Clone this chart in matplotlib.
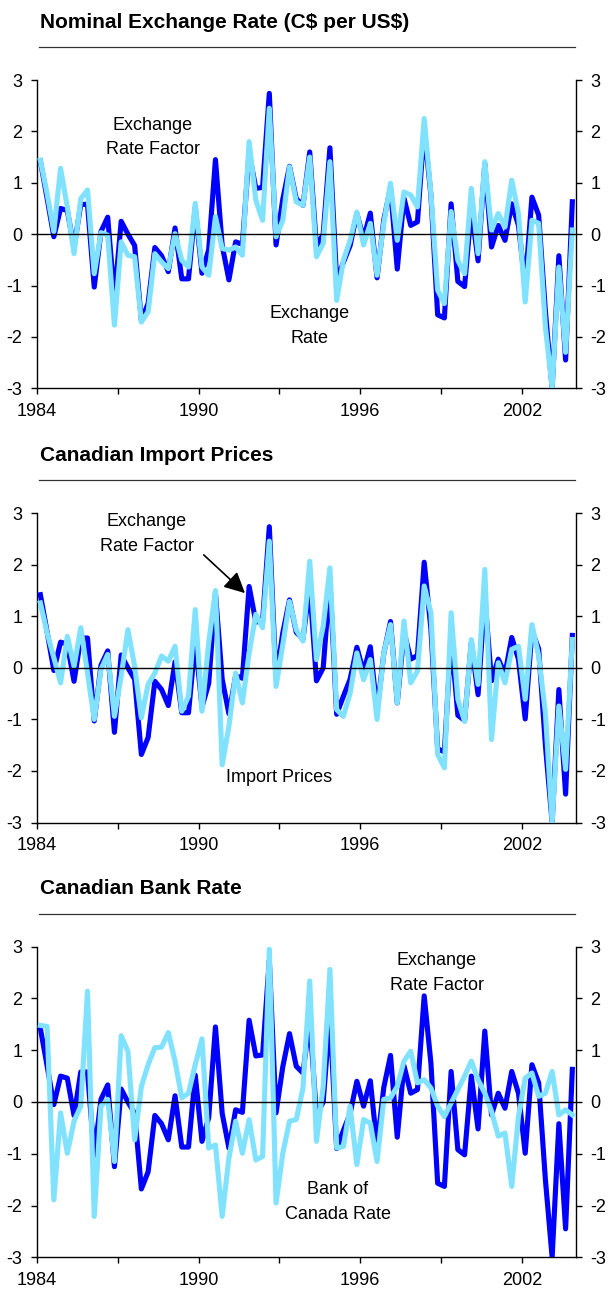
import matplotlib
matplotlib.use('Agg')
import matplotlib.pyplot as plt
import numpy as np

plt.rcParams['font.family'] = ['Liberation Sans', 'DejaVu Sans']

# ---------------- data (quarterly, 1984Q1 - 2003Q4) ----------------
year_labels = ['1984', '1990', '1996', '2002']

exchange_rate_factor = [
    1.42, 0.70, -0.05, 0.50, 0.46, -0.26, 0.58, 0.58, -1.03, 0.05,
    0.33, -1.25, 0.25, 0.00, -0.22, -1.68, -1.35, -0.26, -0.42, -0.73,
    0.12, -0.87, -0.87, 0.52, -0.76, -0.30, 1.45, -0.22, -0.89, -0.15,
    -0.20, 1.58, 0.89, 0.91, 2.74, -0.21, 0.68, 1.32, 0.69, 0.56,
    1.60, -0.25, 0.00, 1.68, -0.90, -0.55, -0.22, 0.40, -0.08, 0.41,
    -0.85, 0.28, 0.90, -0.68, 0.70, 0.17, 0.24, 2.05, 0.75, -1.57,
    -1.63, 0.59, -0.92, -1.02, 0.50, -0.52, 1.37, -0.25, 0.17, -0.12,
    0.59, 0.17, -0.99, 0.72, 0.37, -1.50, -3.00, -0.42, -2.45, 0.63,
]

exchange_rate = [
    1.44, 0.79, 0.05, 1.28, 0.53, -0.38, 0.69, 0.86, -0.77, 0.03,
    -0.02, -1.77, -0.15, -0.41, -0.44, -1.71, -1.51, -0.38, -0.54, -0.67,
    0.01, -0.51, -0.64, 0.60, -0.64, -0.80, 0.34, -0.28, -0.31, -0.25,
    -0.41, 1.80, 0.66, 0.27, 2.45, -0.05, 0.27, 1.31, 0.63, 0.56,
    1.50, -0.44, -0.18, 1.41, -1.29, -0.51, -0.12, 0.43, -0.21, 0.21,
    -0.80, 0.21, 0.99, -0.12, 0.82, 0.76, 0.53, 2.25, 0.79, -1.09,
    -1.35, 0.44, -0.51, -0.77, 0.89, -0.38, 1.41, 0.08, 0.40, 0.14,
    1.05, 0.40, -1.32, 0.27, 0.21, -1.80, -3.00, -0.64, -2.30, 0.08,
]

import_prices = [
    1.26, 0.68, 0.20, -0.29, 0.61, 0.03, 0.78, -0.10, -1.00, -0.03,
    0.26, -0.94, -0.16, 0.74, 0.03, -0.97, -0.32, -0.10, 0.23, 0.13,
    0.42, -0.84, -0.55, 1.13, -0.84, 0.49, 1.50, -1.88, -1.13, -0.10,
    -0.68, 0.29, 1.04, 0.78, 2.46, -0.36, 0.45, 1.29, 0.74, 0.52,
    2.07, 0.16, 0.81, 1.94, -0.81, -0.94, -0.49, 0.29, -0.23, 0.16,
    -1.00, 0.29, 0.84, -0.68, 0.91, -0.29, -0.06, 1.59, 1.07, -1.68,
    -1.94, 1.07, -0.61, -1.04, 0.55, -0.32, 1.91, -1.39, 0.10, -0.29,
    0.36, 0.42, -0.61, 0.84, 0.23, -0.87, -3.00, -0.74, -1.97, 0.55,
]

bank_rate = [
    1.48, 1.46, -1.89, -0.21, -0.99, -0.37, -0.08, 2.14, -2.21, -0.08,
    0.05, -1.15, 1.28, 0.98, -0.73, 0.30, 0.72, 1.05, 1.06, 1.34,
    0.79, 0.08, 0.17, 0.72, 1.22, -0.89, -0.83, -2.21, -1.08, -0.37,
    -0.99, -0.34, -1.12, -1.05, 2.95, -1.95, -0.99, -0.37, -0.34, 0.27,
    2.34, -0.76, 0.30, 2.56, -0.89, -0.86, -0.08, -1.21, -0.34, -0.41,
    -1.15, 0.05, 0.08, 0.30, 0.79, 0.98, 0.37, 0.43, 0.27, -0.08,
    -0.28, -0.02, 0.24, 0.50, 0.79, 0.43, 0.17, -0.18, -0.66, -0.60,
    -1.63, -0.28, 0.46, 0.56, 0.11, 0.17, 0.59, -0.25, -0.15, -0.25,
]

titles = [r'Nominal Exchange Rate (C\$ per US\$)', 'Canadian Import Prices', 'Canadian Bank Rate']
series = [exchange_rate, import_prices, bank_rate]

# ---------------- layout (pixels) ----------------
W, H = 613, 1290
fig = plt.figure(figsize=(W / 100, H / 100), dpi=100)

DARK = '#0000FF'
LIGHT = '#80E2FF'

def frect(l, t, r, b):
    return [l / W, 1 - b / H, (r - l) / W, (b - t) / H]

def fx(px):
    return px / W

def fy(py):
    return 1 - py / H

panel_px = [(80.0, 388.3), (513.3, 822.5), (946.7, 1257.3)]
AX_L, AX_R = 37.0, 575.7

n = len(exchange_rate_factor)
x = np.arange(n)
axes = []
for k, (top, bot) in enumerate(panel_px):
    ax = fig.add_axes(frect(AX_L, top, AX_R, bot))
    axes.append(ax)
    ax.plot(x, exchange_rate_factor, color=DARK, lw=3.7, zorder=3)
    ax.plot(x, series[k], color=LIGHT, lw=3.7, zorder=4)
    ax.axhline(0, color='black', lw=1.0, zorder=5)
    ax.set_xlim(-0.5, n - 0.5)
    ax.set_ylim(-3, 3)
    ax.spines['top'].set_visible(False)
    for s in ['left', 'right', 'bottom']:
        ax.spines[s].set_color('black')
        ax.spines[s].set_linewidth(1.0)
    ax.set_yticks(range(-3, 4))
    ax.set_yticklabels([str(v) for v in range(-3, 4)])
    ax.tick_params(axis='y', left=True, right=True, labelleft=True, labelright=True,
                   direction='out', length=4.5, width=1, labelsize=13, pad=6)
    ax.set_xticks([-0.5 + 24 * j for j in range(len(year_labels))])
    ax.set_xticklabels(year_labels)
    ax.set_xticks([-0.5 + 12 * j for j in range(7)], minor=True)
    ax.tick_params(axis='x', which='both', direction='out', length=4.5, width=1,
                   labelsize=13, pad=6)
    # title + rule
    ttl_y = top - 58
    fig.text(fx(40), fy(ttl_y), titles[k], fontsize=15, fontweight='bold',
             ha='left', va='center')
    line_y = top - 33
    fig.add_artist(plt.Line2D([fx(39), fx(575)], [fy(line_y), fy(line_y)],
                              color='#333333', lw=0.9))

def txt(px, py, s):
    fig.text(fx(px), fy(py), s, fontsize=13, ha='center', va='center',
             linespacing=1.55)

# panel 1 annotations
txt(152.5, 137.5, 'Exchange\nRate Factor')
txt(309.7, 326, 'Exchange\nRate')
# panel 2 annotations
txt(147, 534, 'Exchange\nRate Factor')
fig.text(fx(279), fy(777), 'Import Prices', fontsize=13, ha='center', va='center')
fig.add_artist(matplotlib.patches.FancyArrowPatch(
    (fx(201.7), fy(553)), (fx(247), fy(595)), transform=fig.transFigure,
    arrowstyle='-|>,head_length=0.9,head_width=0.45', color='black', lw=1.2,
    mutation_scale=14))
# panel 3 annotations
txt(437, 973, 'Exchange\nRate Factor')
txt(338, 1202, 'Bank of\nCanada Rate')

fig.savefig('out.png', dpi=100)
